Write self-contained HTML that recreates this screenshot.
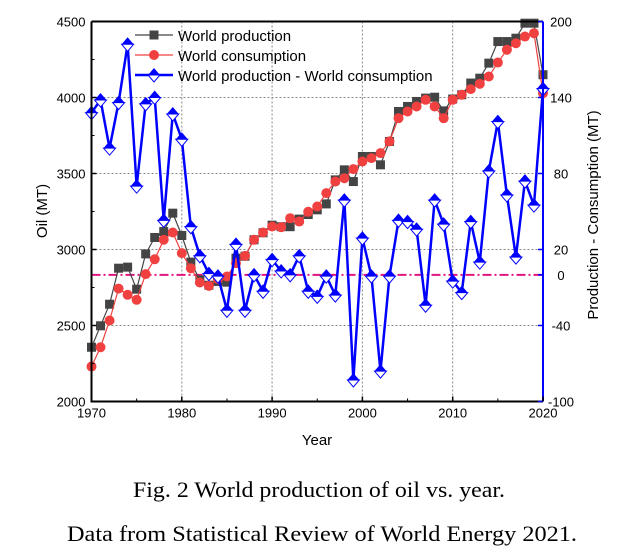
<!DOCTYPE html>
<html><head><meta charset="utf-8"><style>
html,body{margin:0;padding:0;background:#fff;width:643px;height:552px;overflow:hidden}
svg{display:block}
text{font-family:"Liberation Sans",Arial,sans-serif}
</style></head><body>
<svg id="chart" width="643" height="552" viewBox="0 0 643 552" xmlns="http://www.w3.org/2000/svg">
<g id="grid"></g>
<line id="zero" stroke="#e0157f" stroke-width="2" stroke-dasharray="9,3,2,3"/>
<g id="series"></g>
<g id="axes"></g>
<text transform="translate(47,211) rotate(-90)" text-anchor="middle" font-size="15">Oil (MT)</text>
<text transform="translate(598,215) rotate(-90)" text-anchor="middle" font-size="15">Production - Consumption (MT)</text>
<text x="317" y="445" text-anchor="middle" font-size="15">Year</text>
<g id="legend"></g>
<text x="133" y="497" font-size="22" style="font-family:'Liberation Serif',serif" textLength="372" lengthAdjust="spacingAndGlyphs">Fig. 2 World production of oil vs. year.</text>
<text x="67" y="541" font-size="22" style="font-family:'Liberation Serif',serif" textLength="510" lengthAdjust="spacingAndGlyphs">Data from Statistical Review of World Energy 2021.</text>
</svg>
<script>
const years=[1970,1971,1972,1973,1974,1975,1976,1977,1978,1979,1980,1981,1982,1983,1984,1985,1986,1987,1988,1989,1990,1991,1992,1993,1994,1995,1996,1997,1998,1999,2000,2001,2002,2003,2004,2005,2006,2007,2008,2009,2010,2011,2012,2013,2014,2015,2016,2017,2018,2019,2020];
const production=[2357,2498,2640,2877,2884,2739,2971,3079,3118,3239,3092,2917,2800,2765,2790,2785,2943,2956,3064,3110,3160,3150,3150,3200,3230,3261,3300,3458,3524,3447,3612,3612,3557,3711,3908,3941,3974,3996,4002,3912,3990,4018,4095,4127,4226,4368,4368,4390,4489,4489,4150];
const consumption=[2230,2357,2533,2743,2702,2669,2838,2936,3064,3112,2976,2877,2783,2761,2805,2822,2910,2958,3064,3112,3151,3147,3206,3184,3248,3283,3371,3447,3469,3529,3579,3601,3634,3711,3864,3908,3941,3985,3941,3864,3985,4018,4055,4090,4138,4230,4314,4357,4401,4423,4028];
const difference=[128,138,100,136,182,70,135,140,43,127,107,38,15,1,-1,-28,24,-28,0,-13,12,3,0,15,-13,-17,-1,-16,59,-83,29,-1,-76,-1,43,42,36,-24,59,40,-5,-14,42,10,82,121,63,14,74,55,147];
const leftTicks=[2000,2500,3000,3500,4000,4500];
const rightTicks=[-100,-40,0,20,80,140,200];
const xTicks=[1970,1980,1990,2000,2010,2020];

const X0=91.5,X1=543,Y0=401.5,Y1=21.5;
const xs=y=>X0+(y-1970)/50*(X1-X0);
const yl=v=>Y0-(v-2000)/2500*(Y0-Y1);
const yr=v=>Y0-(v+100)/300*(Y0-Y1);
const NS="http://www.w3.org/2000/svg";
function mk(tag,attrs,parent){const e=document.createElementNS(NS,tag);for(const k in attrs)e.setAttribute(k,attrs[k]);parent.appendChild(e);return e;}
const grid=document.getElementById('grid'),axes=document.getElementById('axes'),series=document.getElementById('series'),legend=document.getElementById('legend');

[1980,1990,2000,2010].forEach(t=>{const l=mk('line',{x1:xs(t),x2:xs(t),y1:Y1,y2:Y0,stroke:'#888','stroke-width':1,'stroke-dasharray':'2,2'},grid);
});
[2500,3000,3500,4000].forEach(v=>{const l=mk('line',{x1:X0,x2:X1,y1:yl(v),y2:yl(v),stroke:'#888','stroke-width':1,'stroke-dasharray':'2,2'},grid);
});

const z=document.getElementById('zero');z.setAttribute('x1',X0);z.setAttribute('x2',X1);z.setAttribute('y1',yr(0));z.setAttribute('y2',yr(0));

let f=mk('path',{d:`M${X0},${Y1}H${X1}M${X0},${Y1}V${Y0}H${X1}`,stroke:'#000','stroke-width':2,fill:'none'},axes);

let ra=mk('line',{x1:X1,x2:X1,y1:Y1,y2:Y0,stroke:'#0000ff','stroke-width':2},axes);


leftTicks.forEach(v=>{const t=mk('text',{x:X0-6,y:yl(v)+5,'text-anchor':'end','font-size':13},axes);t.textContent=v;

const l=mk('line',{x1:X0,x2:X0+5,y1:yl(v),y2:yl(v),stroke:'#000','stroke-width':1.5},axes);});
[2250,2750,3250,3750,4250].forEach(v=>{const l=mk('line',{x1:X0,x2:X0+3,y1:yl(v),y2:yl(v),stroke:'#000','stroke-width':1},axes);});
rightTicks.forEach(v=>{const t=mk('text',{x:X1+18,y:yr(v)+5,'text-anchor':'middle','font-size':13},axes);t.textContent=v;

const l=mk('line',{x1:X1-5,x2:X1,y1:yr(v),y2:yr(v),stroke:'#0000ff','stroke-width':1.5},axes);});
xTicks.forEach(v=>{const t=mk('text',{x:xs(v),y:Y0+16,'text-anchor':'middle','font-size':13},axes);t.textContent=v;

const l=mk('line',{x1:xs(v),x2:xs(v),y1:Y0,y2:Y0-5,stroke:'#000','stroke-width':1.5},axes);});
[1975,1985,1995,2005,2015].forEach(v=>{const l=mk('line',{x1:xs(v),x2:xs(v),y1:Y0,y2:Y0-3,stroke:'#000'},axes);});

function square(x,y,p){const r=mk('rect',{x:x-4.5,y:y-4.5,width:9,height:9,fill:'#444'},p);}
function circle(x,y,p){const c=mk('circle',{cx:x,cy:y,r:5,fill:'#f04040'},p);}
function diamond(x,y,p){const g=mk('g',{},p);
mk('path',{d:`M${x-6},${y}L${x},${y+7}L${x+6},${y}Z`,fill:'#fff',stroke:'#0000ff','stroke-width':1},g);
mk('path',{d:`M${x-6},${y}L${x},${y-7}L${x+6},${y}Z`,fill:'#0000ff'},g);}

let pl=mk('polyline',{points:years.map((y,i)=>xs(y)+','+yl(production[i])).join(' '),fill:'none',stroke:'#444','stroke-width':1.2},series);

years.forEach((y,i)=>square(xs(y),yl(production[i]),series));
let cl=mk('polyline',{points:years.map((y,i)=>xs(y)+','+yl(consumption[i])).join(' '),fill:'none',stroke:'#f04040','stroke-width':1.2},series);

years.forEach((y,i)=>circle(xs(y),yl(consumption[i]),series));
let dl=mk('polyline',{points:years.map((y,i)=>xs(y)+','+yr(difference[i])).join(' '),fill:'none',stroke:'#0000ff','stroke-width':2.5},series);

years.forEach((y,i)=>diamond(xs(y),yr(difference[i]),series));

const lx1=135,lx2=173,ly=[35,55,75];
let e;
e=mk('line',{x1:lx1,x2:lx2,y1:ly[0],y2:ly[0],stroke:'#444','stroke-width':1.2},legend);
square((lx1+lx2)/2,ly[0],legend);
e=mk('line',{x1:lx1,x2:lx2,y1:ly[1],y2:ly[1],stroke:'#f04040','stroke-width':1.2},legend);
circle((lx1+lx2)/2,ly[1],legend);
e=mk('line',{x1:lx1,x2:lx2,y1:ly[2],y2:ly[2],stroke:'#0000ff','stroke-width':2.5},legend);
diamond((lx1+lx2)/2,ly[2],legend);
const labels=['World production','World consumption','World production - World consumption'];
labels.forEach((s,i)=>{const t=mk('text',{x:178,y:ly[i]+6,'font-size':15},legend);t.textContent=s;
});
</script>
</body></html>
